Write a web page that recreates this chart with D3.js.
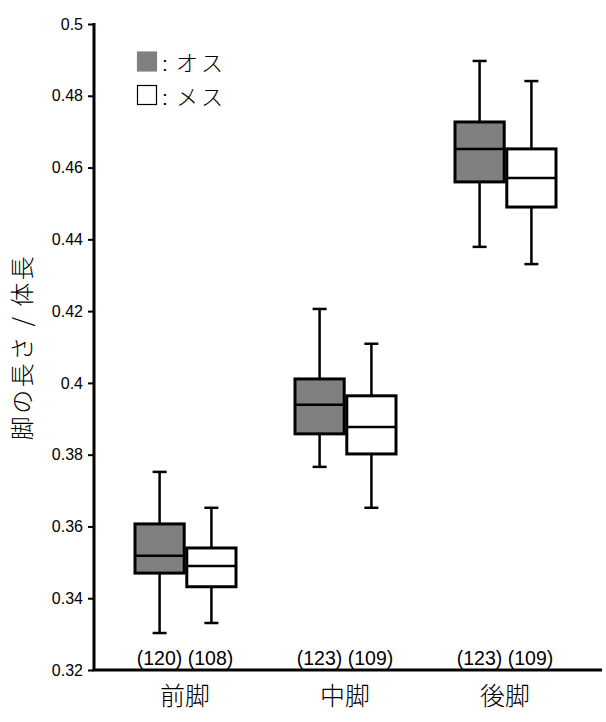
<!DOCTYPE html>
<html>
<head>
<meta charset="utf-8">
<script src="https://cdn.jsdelivr.net/npm/d3@7"></script>
<style>
  body { margin: 0; background: #fff; }
  svg { display: block; }
</style>
</head>
<body>
<svg id="chart"></svg>
<script>
// data
const legs = ["前脚", "中脚", "後脚"];
const sexes = ["オス", "メス"];
const sexColors = ["#808080", "#ffffff"];
// [min, q1, median, q3, max]
const maleStats = [
  [0.3303, 0.3470, 0.3518, 0.3607, 0.3752],
  [0.3766, 0.3858, 0.3939, 0.4011, 0.4206],
  [0.4379, 0.4560, 0.4652, 0.4727, 0.4897]
];
const femaleStats = [
  [0.3331, 0.3432, 0.3490, 0.3540, 0.3652],
  [0.3652, 0.3802, 0.3877, 0.3964, 0.4109],
  [0.4331, 0.4490, 0.4571, 0.4652, 0.4841]
];
const maleN = [120, 123, 123];
const femaleN = [108, 109, 109];
const yTicks = [0.32, 0.34, 0.36, 0.38, 0.4, 0.42, 0.44, 0.46, 0.48, 0.5];

const width = 606, height = 722;
const svg = d3.select("#chart").attr("width", width).attr("height", height);

const axisX = 94, axisBottom = 670, axisTop = 24;

const y = d3.scaleLinear().domain([0.32, 0.5]).range([axisBottom, axisTop]);
const x = d3.scaleBand().domain(legs).range([105, 585]);
const sub = d3.scaleBand().domain(sexes).range([-50, 51]).paddingInner(0.05);

const numFont = "'Liberation Sans', Arial, sans-serif";
const jpFont = "'Noto Sans CJK JP', sans-serif";

// y axis
const yAxis = d3.axisLeft(y).tickValues(yTicks).tickSize(6).tickPadding(5)
  .tickFormat(d3.format("~g"));
const yG = svg.append("g").attr("transform", `translate(${axisX},0)`).call(yAxis);
yG.select(".domain").remove();
yG.selectAll(".tick line").attr("stroke", "#000").attr("stroke-width", 2);
yG.selectAll(".tick text").attr("fill", "#000")
  .style("font-family", numFont).style("font-size", "16px");

svg.append("line")
  .attr("x1", axisX).attr("x2", axisX)
  .attr("y1", axisTop - 1).attr("y2", axisBottom)
  .attr("stroke", "#000").attr("stroke-width", 3);
svg.append("line")
  .attr("x1", axisX - 1.5).attr("x2", 602)
  .attr("y1", axisBottom).attr("y2", axisBottom)
  .attr("stroke", "#000").attr("stroke-width", 3);

// y title
svg.append("text")
  .attr("transform", `translate(31,${(axisTop + axisBottom) / 2}) rotate(-90)`)
  .attr("text-anchor", "middle")
  .style("font-family", jpFont).style("font-size", "24px").style("font-weight", 300)
  .style("letter-spacing", "2.5px")
  .text("脚の長さ / 体長");

// boxes
const statsBySex = [maleStats, femaleStats];
const capW = 14;
sexes.forEach((s, si) => {
  legs.forEach((leg, li) => {
    const st = statsBySex[si][li];
    const x0 = x(leg) + x.bandwidth() / 2 + sub(s);
    const bw = sub.bandwidth();
    const cx = x0 + bw / 2;
    const g = svg.append("g");
    // whiskers
    g.append("line").attr("x1", cx).attr("x2", cx)
      .attr("y1", y(st[4])).attr("y2", y(st[0]))
      .attr("stroke", "#000").attr("stroke-width", 2.5);
    [st[0], st[4]].forEach(v => {
      g.append("line").attr("x1", cx - capW / 2).attr("x2", cx + capW / 2)
        .attr("y1", y(v)).attr("y2", y(v))
        .attr("stroke", "#000").attr("stroke-width", 2.5);
    });
    g.append("rect")
      .attr("x", x0).attr("width", bw)
      .attr("y", y(st[3])).attr("height", y(st[1]) - y(st[3]))
      .attr("fill", sexColors[si]).attr("stroke", "#000").attr("stroke-width", 3);
    g.append("line").attr("x1", x0).attr("x2", x0 + bw)
      .attr("y1", y(st[2])).attr("y2", y(st[2]))
      .attr("stroke", "#000").attr("stroke-width", 2.5);
  });
});

// sample sizes
legs.forEach((leg, li) => {
  svg.append("text")
    .attr("x", x(leg) + x.bandwidth() / 2).attr("y", 665)
    .attr("text-anchor", "middle")
    .style("font-family", numFont).style("font-size", "19.5px")
    .text(`(${maleN[li]}) (${femaleN[li]})`);
});

// category labels
const xAxis = d3.axisBottom(x).tickSize(0).tickPadding(17);
const xG = svg.append("g").attr("transform", `translate(0,${axisBottom})`).call(xAxis);
xG.select(".domain").remove();
xG.selectAll(".tick text").attr("fill", "#000")
  .style("font-family", jpFont).style("font-size", "25px").style("font-weight", 300);

// legend
sexes.forEach((s, si) => {
  const ly = 52 + si * 33.5;
  svg.append("rect")
    .attr("x", 137.5).attr("y", ly).attr("width", 19).attr("height", 19)
    .attr("fill", sexColors[si]).attr("stroke", si ? "#000" : "#808080").attr("stroke-width", 1.2);
  svg.append("text")
    .attr("x", 162).attr("y", ly + 19)
    .style("font-family", numFont).style("font-size", "21px")
    .text(":");
  svg.append("text")
    .attr("x", 176).attr("y", ly + 19)
    .style("font-family", jpFont).style("font-size", "22px").style("font-weight", 300)
    .style("letter-spacing", "3px")
    .text(s);
});
</script>
</body>
</html>
